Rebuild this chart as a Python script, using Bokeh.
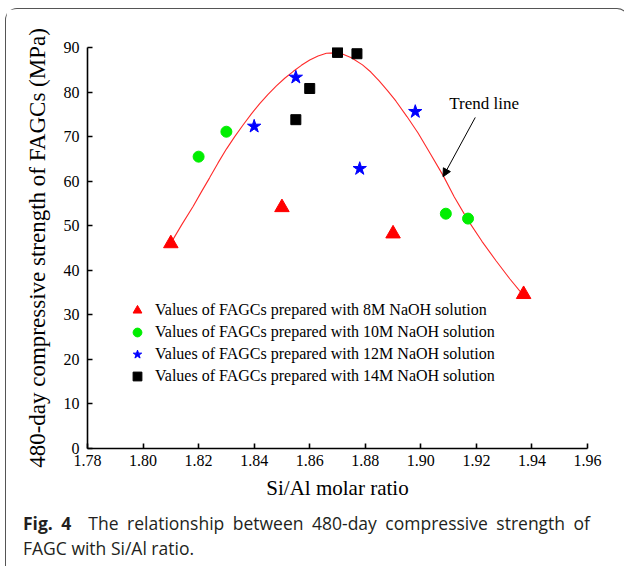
from bokeh.plotting import figure
from bokeh.models import (Legend, LegendItem, Arrow, NormalHead, Label,
                          FixedTicker, NumeralTickFormatter, Div, Range1d)
from bokeh.layouts import column
from bokeh.embed import file_html
from bokeh.resources import INLINE

# ---- data ----
x_8m = [1.810, 1.850, 1.890, 1.937]
y_8m = [46.0, 54.1, 48.2, 34.6]
x_10m = [1.820, 1.830, 1.909, 1.917]
y_10m = [65.5, 71.1, 52.7, 51.6]
x_12m = [1.840, 1.855, 1.878, 1.898]
y_12m = [72.3, 83.3, 62.8, 75.6]
x_14m = [1.855, 1.860, 1.870, 1.877]
y_14m = [73.8, 80.8, 88.9, 88.6]

# trend line
trend_x = [1.810, 1.814, 1.818, 1.821, 1.824, 1.827, 1.830, 1.833, 1.836, 1.839,
           1.842, 1.845, 1.848, 1.851, 1.854, 1.857, 1.860, 1.863, 1.866, 1.869,
           1.872, 1.875, 1.879, 1.882, 1.885, 1.888, 1.891, 1.895, 1.899, 1.903,
           1.908, 1.912, 1.917, 1.922, 1.927, 1.932, 1.937]
trend_y = [46.1, 50.3, 54.3, 57.6, 60.8, 64.1, 67.2, 70.0, 72.6, 75.1,
           77.4, 79.5, 81.4, 83.1, 84.6, 86.0, 87.2, 88.1, 88.7, 88.8,
           88.5, 87.7, 86.1, 84.5, 82.5, 80.3, 78.0, 74.5, 70.8, 66.6,
           61.3, 56.5, 51.2, 46.5, 42.2, 38.1, 34.3]

x_ticks = [1.78, 1.80, 1.82, 1.84, 1.86, 1.88, 1.90, 1.92, 1.94, 1.96]
y_ticks = [0, 10, 20, 30, 40, 50, 60, 70, 80, 90]

legend_labels = [
    "Values of FAGCs prepared with 8M NaOH solution",
    "Values of FAGCs prepared with 10M NaOH solution",
    "Values of FAGCs prepared with 12M NaOH solution",
    "Values of FAGCs prepared with 14M NaOH solution",
]

trend_label = "Trend line"
trend_label_pos = (1.9228, 77.4)
arrow_start = (1.9196, 74.3)
arrow_end = (1.9080, 61.0)

caption_bold = "Fig. 4"
caption_line1 = "The relationship between 480-day compressive strength of"
caption_line2 = "FAGC with Si/Al ratio."

SERIF = "Liberation Serif"

p = figure(frame_width=500, frame_height=401,
           x_range=Range1d(1.78, 1.96), y_range=Range1d(0, 90),
           output_backend="svg", toolbar_location=None,
           min_border_left=81, min_border_right=31,
           min_border_top=38, min_border_bottom=57)

p.xgrid.visible = False
p.ygrid.visible = False
p.outline_line_color = None
p.background_fill_color = "white"
p.border_fill_color = "white"

for ax in (p.xaxis[0], p.yaxis[0]):
    ax.axis_line_width = 1.6
    ax.axis_line_color = "black"
    ax.major_tick_in = 5
    ax.major_tick_out = 0
    ax.major_tick_line_width = 1.6
    ax.major_tick_line_color = "black"
    ax.minor_tick_line_color = None
    ax.major_label_text_font = SERIF
    ax.major_label_text_font_size = "16px"
    ax.major_label_text_color = "black"
    ax.axis_label_text_font = SERIF
    ax.axis_label_text_font_style = "normal"
    ax.axis_label_text_color = "black"

p.xaxis.axis_label_text_font_size = "21px"
p.yaxis.axis_label_text_font_size = "23px"
p.xaxis.ticker = FixedTicker(ticks=x_ticks)
p.xaxis.formatter = NumeralTickFormatter(format="0.00")
p.yaxis.ticker = FixedTicker(ticks=y_ticks)
p.xaxis.axis_label = "Si/Al molar ratio"
p.yaxis.axis_label = "480-day compressive strength of FAGCs (MPa)"
p.xaxis.major_label_standoff = 6
p.yaxis.major_label_standoff = 8
p.xaxis.axis_label_standoff = 7
p.yaxis.axis_label_standoff = 11

p.line(trend_x, trend_y, line_color="#ff2a2a", line_width=1.1)

r8 = p.scatter(x_8m, y_8m, marker="triangle", size=14.5, color="#ff0000")
r10 = p.scatter(x_10m, y_10m, marker="circle", size=11, color="#00ee00")
r12 = p.scatter(x_12m, y_12m, marker="star", size=14, color="#0000ff")
r14 = p.scatter(x_14m, y_14m, marker="square", size=10, color="#000000")

p.add_layout(Arrow(end=NormalHead(size=8, fill_color="black", line_color="black"),
                   x_start=arrow_start[0], y_start=arrow_start[1],
                   x_end=arrow_end[0], y_end=arrow_end[1],
                   line_color="black", line_width=1))
p.add_layout(Label(x=trend_label_pos[0], y=trend_label_pos[1], text=trend_label,
                   text_align="center", text_baseline="middle",
                   text_font=SERIF, text_font_size="17px", text_color="black"))

legend = Legend(items=[LegendItem(label=lab, renderers=[r])
                       for lab, r in zip(legend_labels, [r8, r10, r12, r14])],
                location=(39, 61), border_line_color=None,
                background_fill_alpha=0, label_text_font=SERIF,
                label_text_font_size="16px", label_text_color="black",
                glyph_width=22, glyph_height=22, label_height=22,
                spacing=0, padding=0, margin=0, label_standoff=7)
p.add_layout(legend)

caption = Div(
    text=('<div style="font-family:\'Open Sans\';font-size:17.5px;line-height:25px;'
          'color:#231f20;padding:1px 0 0 12px;">'
          '<div style="width:567px;text-align:justify;text-align-last:justify;'
          'white-space:nowrap;">'
          '<b>' + caption_bold + '</b>&nbsp;&nbsp;' + caption_line1 +
          '</div><div>' + caption_line2 + '</div></div>'),
    width=612, height=58)

layout = column(p, caption, margin=(8, 0, 0, 5),
                styles={"border": "1.5px solid #555", "border-bottom": "none",
                        "border-radius": "12px 12px 0 0", "background": "white"})

open("out.html", "w").write(file_html(layout, INLINE))
